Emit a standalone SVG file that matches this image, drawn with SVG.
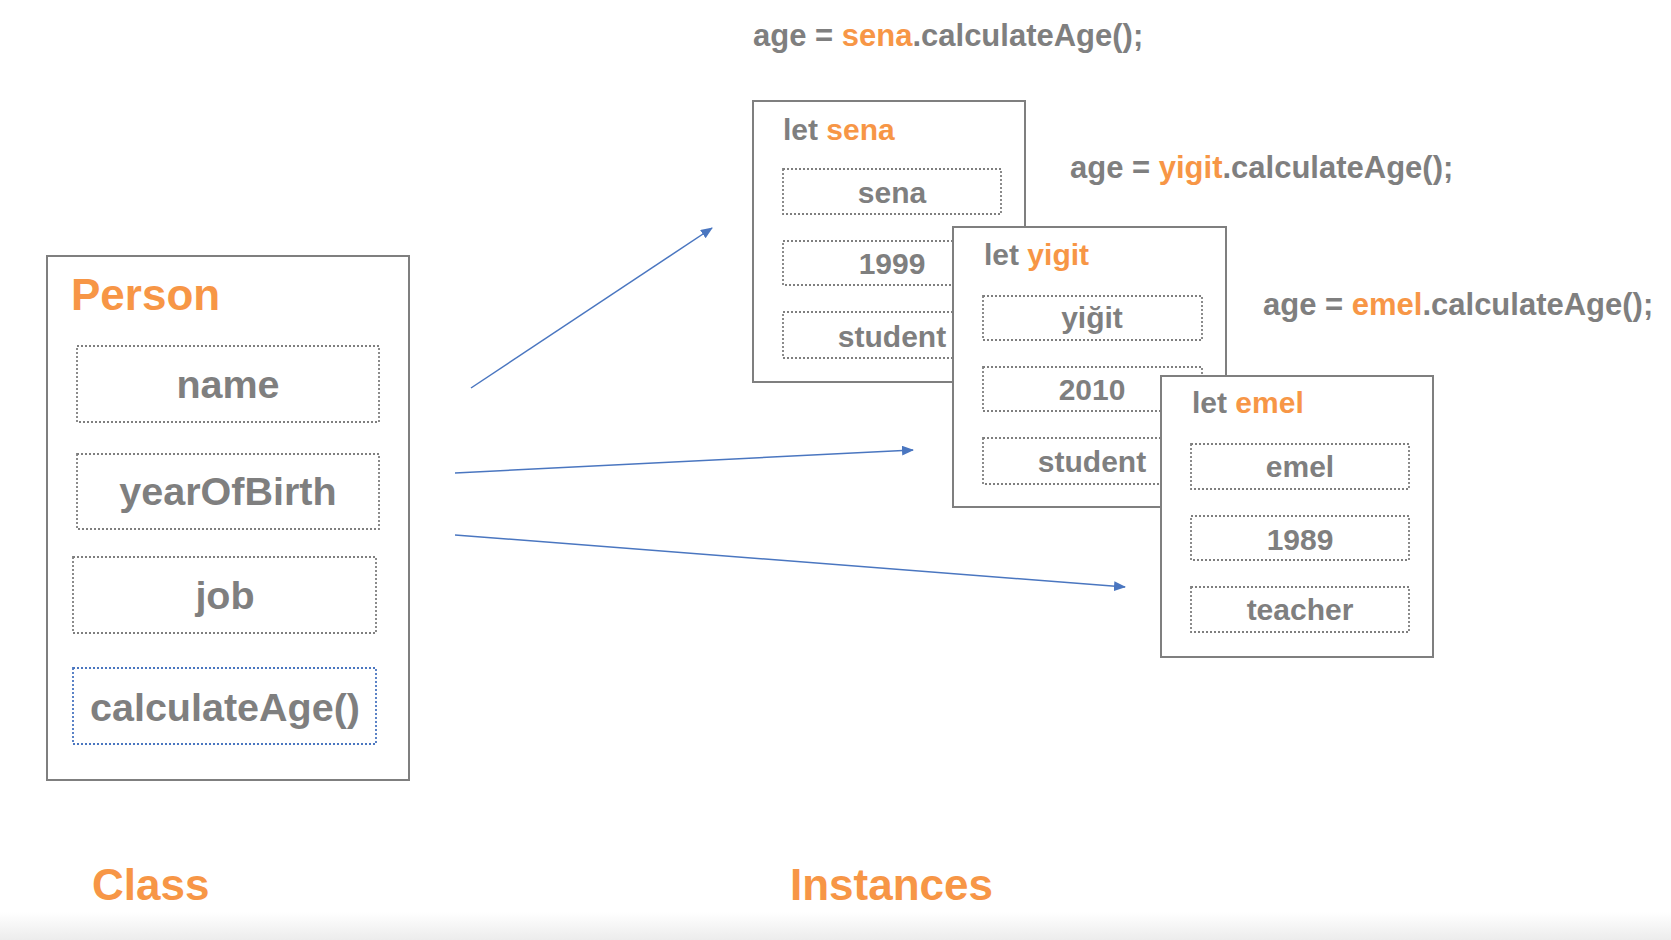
<svg xmlns="http://www.w3.org/2000/svg" width="1671" height="940" viewBox="0 0 1671 940">
<defs>
<marker id="ah" viewBox="0 0 12 10" refX="11" refY="5" markerWidth="12" markerHeight="10" markerUnits="userSpaceOnUse" orient="auto">
<path d="M0,0 L12,5 L0,10 z" fill="#4a76c0"/>
</marker>
<linearGradient id="bot" x1="0" y1="0" x2="0" y2="1">
<stop offset="0" stop-color="#ffffff"/>
<stop offset="1" stop-color="#ececec"/>
</linearGradient>
</defs>
<style>
text{font-family:"Liberation Sans",Arial,sans-serif;font-weight:bold;fill:#7f7f7f}
.or{fill:#f79646}
.box{fill:#ffffff;stroke:#7f7f7f;stroke-width:2}
.dot{fill:none;stroke:#7f7f7f;stroke-width:1.8;stroke-dasharray:2 2}
.dotb{fill:none;stroke:#4a76c0;stroke-width:1.8;stroke-dasharray:2 2}
.big{font-size:39.5px}
.mid{font-size:30px}
.cl{font-size:31px}
.ttl{font-size:44px}
.c{text-anchor:middle}
.conn{stroke:#4a76c0;stroke-width:1.5;fill:none}
</style>
<rect x="0" y="0" width="1671" height="940" fill="#ffffff"/>
<rect x="0" y="912" width="1671" height="28" fill="url(#bot)"/>

<g id="class-person">
<rect class="box" x="47" y="256" width="362" height="524"/>
<text class="ttl or" x="71" y="310">Person</text>
<rect class="dot" x="77" y="346" width="302" height="76"/>
<text class="big c" x="228" y="398">name</text>
<rect class="dot" x="77" y="454" width="302" height="75"/>
<text class="big c" x="228" y="505">yearOfBirth</text>
<rect class="dot" x="73" y="557" width="303" height="76"/>
<text class="big c" x="225" y="609">job</text>
<rect class="dotb" x="73" y="668" width="303" height="76"/>
<text class="big c" x="225" y="721">calculateAge()</text>
</g>

<g id="call-sena">
<text class="cl" x="753" y="46">age = <tspan class="or">sena</tspan>.calculateAge();</text>
</g>
<g id="call-yigit">
<text class="cl" x="1070" y="178">age = <tspan class="or">yigit</tspan>.calculateAge();</text>
</g>
<g id="call-emel">
<text class="cl" x="1263" y="315">age = <tspan class="or">emel</tspan>.calculateAge();</text>
</g>

<g id="instance-sena">
<rect class="box" x="753" y="101" width="272" height="281"/>
<text class="mid" x="783" y="140">let <tspan class="or">sena</tspan></text>
<rect class="dot" x="783" y="169" width="218" height="45"/>
<text class="mid c" x="892" y="203">sena</text>
<rect class="dot" x="783" y="241" width="218" height="44"/>
<text class="mid c" x="892" y="274">1999</text>
<rect class="dot" x="783" y="312" width="218" height="46"/>
<text class="mid c" x="892" y="347">student</text>
</g>

<g id="instance-yigit">
<rect class="box" x="953" y="227" width="273" height="280"/>
<text class="mid" x="984" y="265">let <tspan class="or">yigit</tspan></text>
<rect class="dot" x="983" y="296" width="219" height="44"/>
<text class="mid c" x="1092" y="328">yiğit</text>
<rect class="dot" x="983" y="367" width="219" height="44"/>
<text class="mid c" x="1092" y="400">2010</text>
<rect class="dot" x="983" y="438" width="219" height="46"/>
<text class="mid c" x="1092" y="472">student</text>
</g>

<g id="instance-emel">
<rect class="box" x="1161" y="376" width="272" height="281"/>
<text class="mid" x="1192" y="413">let <tspan class="or">emel</tspan></text>
<rect class="dot" x="1191" y="444" width="218" height="45"/>
<text class="mid c" x="1300" y="477">emel</text>
<rect class="dot" x="1191" y="516" width="218" height="44"/>
<text class="mid c" x="1300" y="550">1989</text>
<rect class="dot" x="1191" y="587" width="218" height="45"/>
<text class="mid c" x="1300" y="620">teacher</text>
</g>

<g id="connectors">
<line class="conn" x1="471" y1="388" x2="712" y2="228" marker-end="url(#ah)"/>
<line class="conn" x1="455" y1="473" x2="913" y2="450" marker-end="url(#ah)"/>
<line class="conn" x1="455" y1="535" x2="1125" y2="587" marker-end="url(#ah)"/>
</g>

<g id="labels">
<text class="ttl or" x="92" y="900">Class</text>
<text class="ttl or" x="790" y="900">Instances</text>
</g>
</svg>
